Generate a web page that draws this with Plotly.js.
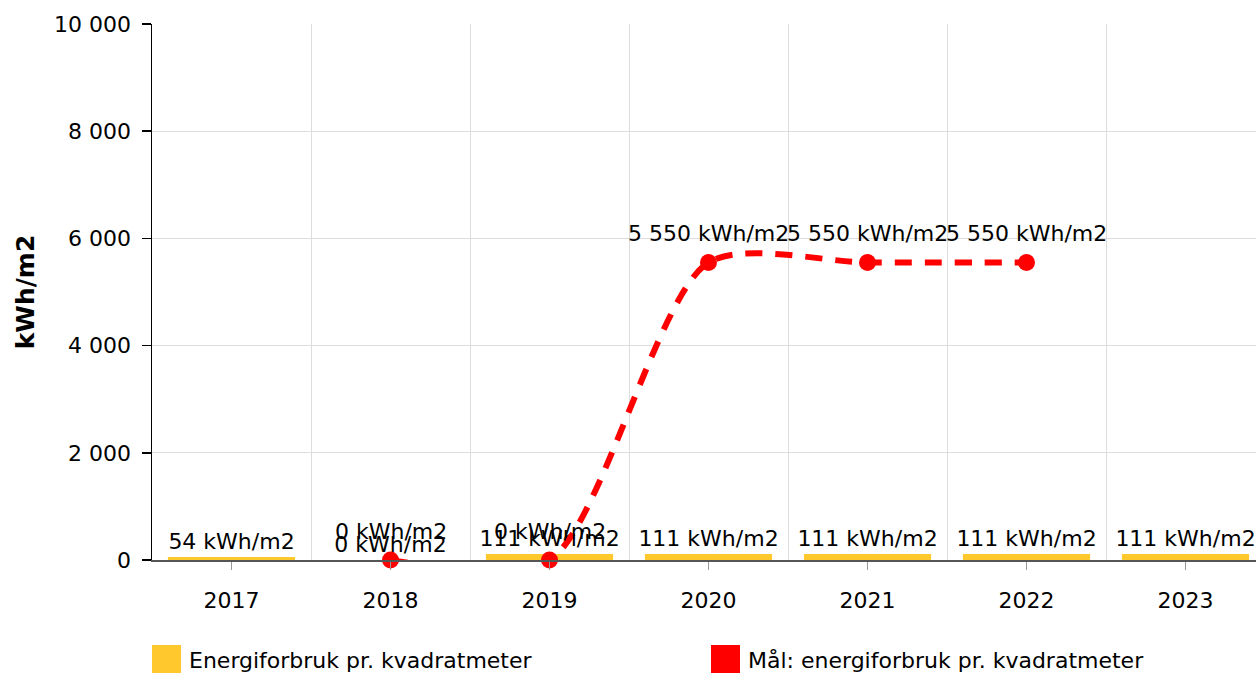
<!DOCTYPE html>
<html>
<head>
<meta charset="utf-8">
<script src="https://cdn.plot.ly/plotly-3.0.1.min.js"></script>
<style>html,body{margin:0;padding:0;background:#fff;}#chart{width:1256px;height:673px;}</style>
</head>
<body>
<div id="chart"></div>
<script>
const years = [2017, 2018, 2019, 2020, 2021, 2022, 2023];
const usage = [54, 0, 111, 111, 111, 111, 111];
const targetYears = [2018, 2019, 2020, 2021, 2022];
const target = [0, 0, 5550, 5550, 5550];
const boundaries = [2016.5, 2017.5, 2018.5, 2019.5, 2020.5, 2021.5, 2022.5, 2023.5];
const usageName = 'Energiforbruk pr. kvadratmeter';
const targetName = 'Mål: energiforbruk pr. kvadratmeter';
const yTitle = 'kWh/m2';

const FONT = 'DejaVu Sans, Verdana, sans-serif';
const YELLOW = '#FFC82C';
const RED = '#FF0000';
const FS = 22;

const fmt = (v) => String(v).replace(/\B(?=(\d{3})+(?!\d))/g, ' ') + ' kWh/m2';

const traces = [
  {
    type: 'bar', x: years, y: usage, name: usageName,
    marker: {color: YELLOW}, width: 0.8,
    texttemplate: '%{y:,} kWh/m2', textposition: 'outside', constraintext: 'none',
    textfont: {family: FONT, size: FS, color: '#000'},
    cliponaxis: false, showlegend: false, hoverinfo: 'x+y'
  },
  {
    type: 'scatter', mode: 'lines+markers', x: targetYears, y: target, name: targetName,
    line: {color: RED, width: 6, dash: '17px,13px', shape: 'spline', smoothing: 0.75},
    marker: {color: RED, size: 17},
    cliponaxis: false, showlegend: false
  },
  {
    type: 'scatter', mode: 'markers', x: [], y: [], xaxis: 'x2', showlegend: false, hoverinfo: 'skip'
  }
];

const xr = [2016.5, 2016.5 + (1256 - 152) / 159];
const H = 560 - 24;
const py = (pix) => -(pix - 560) / H;

const targetLabels = targetYears.map((yr, i) => ({
  x: yr, y: target[i], xref: 'x', yref: 'y', text: fmt(target[i]),
  showarrow: false, yshift: 29, xanchor: 'center', yanchor: 'middle',
  font: {family: FONT, size: FS, color: '#000'}
}));

const layout = {
  width: 1256, height: 673,
  margin: {l: 152, r: 0, t: 24, b: 113},
  paper_bgcolor: '#fff', plot_bgcolor: '#fff',
  separators: ', ',
  font: {family: FONT, size: FS, color: '#000'},
  showlegend: false,
  bargap: 0.2,
  xaxis: {
    range: xr, tickvals: years, ticktext: years.map(String),
    showgrid: false, zeroline: false,
    showline: true, linecolor: '#555', linewidth: 1.5,
    ticks: 'outside', ticklen: 8, tickcolor: '#999', tickwidth: 1.5,
    ticklabelstandoff: 12,
    tickfont: {family: FONT, size: FS, color: '#000'}
  },
  xaxis2: {
    overlaying: 'x', matches: 'x', range: xr, tickvals: boundaries,
    showgrid: true, gridcolor: '#DDDDDD', gridwidth: 1,
    showticklabels: false, ticks: '', zeroline: false, showline: false
  },
  yaxis: {
    range: [0, 10000], tickvals: [0, 2000, 4000, 6000, 8000, 10000],
    tickformat: ',d',
    showgrid: true, gridcolor: '#DDDDDD', gridwidth: 1,
    zeroline: false, showline: true, linecolor: '#000', linewidth: 1.5,
    ticks: 'outside', ticklen: 9, tickcolor: '#000', tickwidth: 1.5,
    ticklabelstandoff: 6,
    tickfont: {family: FONT, size: FS, color: '#000'},
    title: {text: '<b>' + yTitle + '</b>', font: {family: FONT, size: 25, color: '#000'}, standoff: 12}
  },
  shapes: [
    {type: 'rect', xref: 'paper', yref: 'paper', x0: 0, x1: 29/1104, y0: py(645), y1: py(673), fillcolor: YELLOW, line: {width: 0}},
    {type: 'rect', xref: 'paper', yref: 'paper', x0: (711-152)/1104, x1: (740-152)/1104, y0: py(645), y1: py(673), fillcolor: RED, line: {width: 0}}
  ],
  annotations: targetLabels.concat([
    {xref: 'paper', yref: 'paper', x: (187-152)/1104, y: py(660), xanchor: 'left', yanchor: 'middle', text: usageName, showarrow: false, font: {family: FONT, size: FS, color: '#000'}},
    {xref: 'paper', yref: 'paper', x: (746-152)/1104, y: py(660), xanchor: 'left', yanchor: 'middle', text: targetName, showarrow: false, font: {family: FONT, size: FS, color: '#000'}}
  ])
};

Plotly.newPlot('chart', traces, layout, {displayModeBar: false, staticPlot: true});
</script>
</body>
</html>
